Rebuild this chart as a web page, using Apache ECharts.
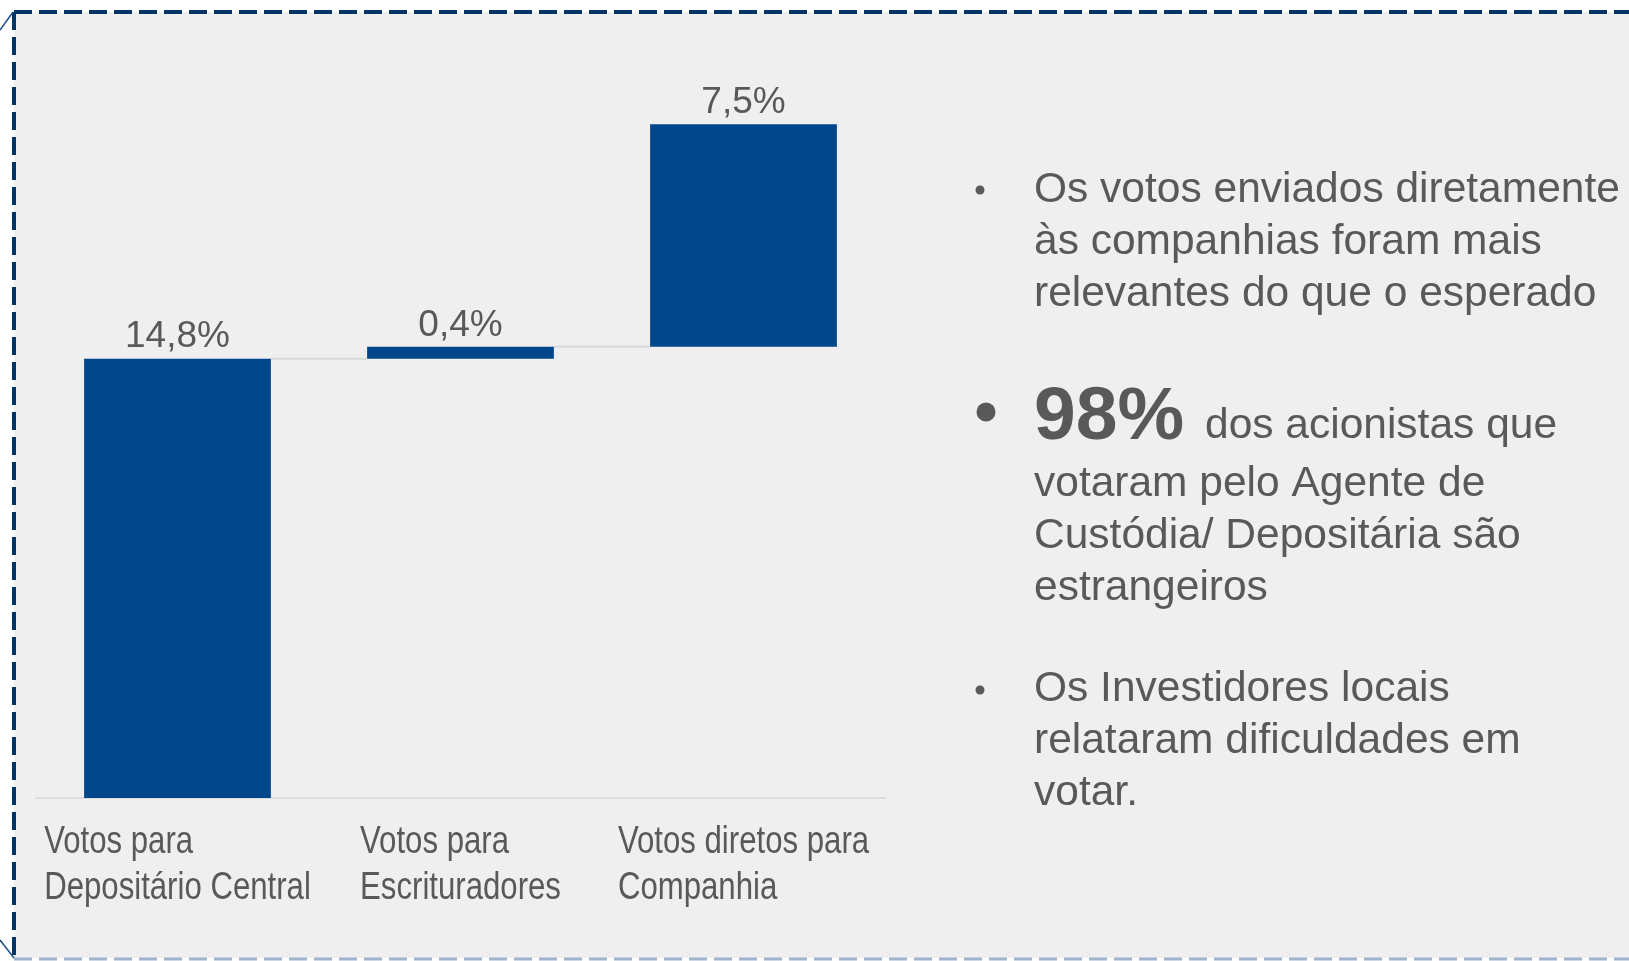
<!DOCTYPE html>
<html>
<head>
<meta charset="utf-8">
<script src="https://cdn.jsdelivr.net/npm/echarts@6/dist/echarts.min.js"></script>
<style>
    html, body { margin: 0; padding: 0; background: #fff; }
    #chart { width: 1629px; height: 961px; }
</style>
</head>
<body>
<div id="chart"></div>
<script>
// chart data
var categories = ['Votos para\nDepositário Central', 'Votos para\nEscrituradores', 'Votos diretos para\nCompanhia'];
var values = [14.8, 0.4, 7.5];

// side notes
var note1 = ['Os votos enviados diretamente', 'às companhias foram mais', 'relevantes do que o esperado'];
var note2Big = '98%';
var note2Lead = 'dos acionistas que';
var note2 = ['votaram pelo Agente de', 'Custódia/ Depositária são', 'estrangeiros'];
var note3 = ['Os Investidores locais', 'relataram dificuldades em', 'votar.'];

// waterfall: each bar floats on the running total of the previous ones
var bases = [];
var running = 0;
values.forEach(function (v) {
    bases.push(running);
    running += v;
});
var levels = values.map(function (v, i) { return bases[i] + v; });
var connectors = [];
for (var i = 0; i < values.length - 1; i++) {
    connectors.push([i, levels[i]]);
}

var BAR_RATIO = 0.66;
var TEXT = '#595959';
var SANS = '"Liberation Sans", Arial, sans-serif';

var myChart = echarts.init(document.getElementById('chart'));

function noteText(lines, x, y) {
    return {
        type: 'text',
        x: x,
        y: y,
        style: {
            text: lines.join('\n'),
            fill: TEXT,
            fontFamily: SANS,
            fontSize: 42.5,
            lineHeight: 52,
            verticalAlign: 'top'
        }
    };
}

var decor = [
    {
        type: 'rect',
        z: -10,
        shape: { x: 14, y: 12, width: 1629, height: 946 },
        style: { fill: '#efefef' }
    },
    {
        type: 'line',
        shape: { x1: 14, y1: 12, x2: 1629, y2: 12 },
        style: { stroke: '#023466', lineWidth: 4, lineDash: [18, 7] }
    },
    {
        type: 'line',
        shape: { x1: 14, y1: 12, x2: 14, y2: 958 },
        style: { stroke: '#023466', lineWidth: 4, lineDash: [18, 7] }
    },
    {
        type: 'line',
        shape: { x1: 14, y1: 959, x2: 1629, y2: 959 },
        style: { stroke: '#9fb3cc', lineWidth: 3, lineDash: [18, 7] }
    },
    {
        type: 'line',
        shape: { x1: 0, y1: 30, x2: 13, y2: 12 },
        style: { stroke: '#1f4e8c', lineWidth: 1.5 }
    },
    {
        type: 'line',
        shape: { x1: 0, y1: 940, x2: 14, y2: 958 },
        style: { stroke: '#1f4e8c', lineWidth: 1.5 }
    },
    // bullets
    { type: 'circle', shape: { cx: 980, cy: 190, r: 4.5 }, style: { fill: TEXT } },
    { type: 'circle', shape: { cx: 986, cy: 412, r: 9.5 }, style: { fill: TEXT } },
    { type: 'circle', shape: { cx: 980, cy: 690, r: 4.5 }, style: { fill: TEXT } },
    noteText(note1, 1034, 164),
    {
        type: 'text',
        x: 1034,
        y: 418,
        style: {
            text: note2Big,
            fill: TEXT,
            fontFamily: SANS,
            fontWeight: 'bold',
            fontSize: 75,
            verticalAlign: 'middle'
        }
    },
    {
        type: 'text',
        x: 1205,
        y: 426,
        style: {
            text: note2Lead,
            fill: TEXT,
            fontFamily: SANS,
            fontSize: 42.5,
            verticalAlign: 'middle'
        }
    },
    noteText(note2, 1034, 458),
    noteText(note3, 1034, 663)
];

var option = {
    backgroundColor: '#fff',
    animation: false,
    grid: {
        left: 36,
        right: 744,
        top: 56,
        bottom: 163,
        containLabel: false
    },
    xAxis: {
        type: 'category',
        data: categories,
        axisTick: { show: false },
        axisLine: { lineStyle: { color: '#dcdcdc', width: 2 } },
        // labels are drawn below as condensed text
        axisLabel: { show: false }
    },
    yAxis: {
        type: 'value',
        min: 0,
        max: 25,
        show: false,
        splitLine: { show: false }
    },
    series: [{
        name: 'base',
        type: 'bar',
        stack: 'waterfall',
        barWidth: BAR_RATIO * 100 + '%',
        itemStyle: { color: 'transparent' },
        silent: true,
        data: bases
    }, {
        name: 'votos',
        type: 'bar',
        stack: 'waterfall',
        barWidth: BAR_RATIO * 100 + '%',
        itemStyle: { color: '#00468b' },
        label: {
            show: true,
            position: 'top',
            distance: 3,
            color: TEXT,
            fontFamily: SANS,
            fontSize: 37,
            formatter: function (p) {
                return p.value.toFixed(1).replace('.', ',') + '%';
            }
        },
        data: values
    }, {
        name: 'connector',
        type: 'custom',
        silent: true,
        renderItem: function (params, api) {
            var idx = api.value(0);
            var lvl = api.value(1);
            var half = api.size([1, 0])[0] * BAR_RATIO / 2;
            var p1 = api.coord([idx, lvl]);
            var p2 = api.coord([idx + 1, lvl]);
            return {
                type: 'line',
                shape: { x1: p1[0] + half, y1: p1[1], x2: p2[0] - half, y2: p2[1] },
                style: { stroke: '#d9d9d9', lineWidth: 2 }
            };
        },
        data: connectors
    }]
};

myChart.setOption(option);

// category labels: narrow-looking text, centred under each bar, lines flush left
var axisY = myChart.convertToPixel({ yAxisIndex: 0 }, 0);
var catLabels = categories.map(function (c, idx) {
    var cx = myChart.convertToPixel({ xAxisIndex: 0 }, idx);
    return {
        type: 'text',
        x: cx,
        y: axisY + 22,
        scaleX: 0.82,
        style: {
            text: c.split('\n').map(function (s) { return '{l|' + s + '}'; }).join('\n'),
            align: 'center',
            verticalAlign: 'top',
            rich: {
                l: {
                    align: 'left',
                    fill: TEXT,
                    fontFamily: SANS,
                    fontSize: 38,
                    lineHeight: 46
                }
            }
        }
    };
});

myChart.setOption({ graphic: decor.concat(catLabels) });
</script>
</body>
</html>
